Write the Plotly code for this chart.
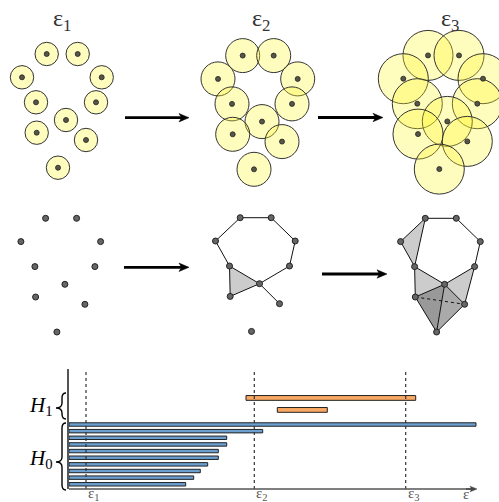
import plotly.graph_objects as go

W, H = 499, 502

# ---- data ----
pt_x = [46.7, 77.7, 22.0, 101.7, 36.0, 96.0, 66.0, 36.7, 86.0, 58.0]
pt_y = [54.0, 54.0, 77.3, 77.3, 102.3, 102.3, 120.0, 132.7, 140.0, 167.7]
eps_radii = [11.7, 17.0, 25.0]
eps_labels = ["ε<sub>1</sub>", "ε<sub>2</sub>", "ε<sub>3</sub>"]

edges_mid = [(0, 1), (0, 2), (1, 3), (2, 4), (3, 5), (5, 6), (4, 6), (4, 7), (6, 7), (6, 8)]
tris_mid = [(4, 6, 7)]
edges_right = [(0, 1), (1, 3), (3, 5), (0, 2), (2, 4), (0, 4), (4, 6), (4, 7), (5, 6),
               (5, 8), (6, 7), (6, 8), (6, 9), (7, 9), (8, 9)]
tris_right_light = [(0, 2, 4), (4, 6, 7), (5, 6, 8)]
tris_right_dark = [(7, 6, 9), (6, 8, 9)]
dotted_right = [(7, 8)]

h0_birth = [0, 0, 0, 0, 0, 0, 0, 0, 0, 0]
h0_death = [407.0, 193.7, 157.7, 157.7, 149.3, 149.3, 138.7, 131.3, 124.7, 116.7]
h1_birth = [177.0, 208.3]
h1_death = [346.7, 258.3]
bar_eps = [17.0, 185.3, 336.7]
bar_eps_labels = ["ε<sub>1</sub>", "ε<sub>2</sub>", "ε<sub>3</sub>"]

fig = go.Figure()
layout = {}


def panel(i, px0, px1, py0, py1, offx, offy):
    layout[f"xaxis{i}"] = dict(domain=[px0 / W, px1 / W], range=[px0 - offx, px1 - offx],
                               visible=False, anchor=f"y{i}", fixedrange=True)
    layout[f"yaxis{i}"] = dict(domain=[1 - py1 / H, 1 - py0 / H], range=[py1 - offy, py0 - offy],
                               visible=False, anchor=f"x{i}", fixedrange=True)


def PX(v):
    return v / W


def PY(v):
    return 1 - v / H


shapes = []
annotations = []

# ---- top row: balls ----
top_boxes = [(0, 124, 0.0, 0.0), (190, 320, 196.0, 1.6), (372, 499, 381.3, 1.4)]
for k, (x0, x1, ox, oy) in enumerate(top_boxes):
    i = k + 1
    panel(i, x0, x1, 28, 200, ox, oy)
    r = eps_radii[k]
    for cx, cy in zip(pt_x, pt_y):
        shapes.append(dict(type="circle", xref=f"x{i}", yref=f"y{i}",
                           x0=cx - r, x1=cx + r, y0=cy - r, y1=cy + r,
                           fillcolor="rgba(255,250,40,0.30)",
                           line=dict(color="#333", width=1), layer="below"))
    fig.add_trace(go.Scatter(x=pt_x, y=pt_y, mode="markers", xaxis=f"x{i}", yaxis=f"y{i}",
                             marker=dict(size=5, color="#555548", line=dict(color="#222", width=0.8)),
                             hoverinfo="skip"))


def add_tri(i, tri, color):
    xs = [pt_x[t] for t in tri] + [pt_x[tri[0]]]
    ys = [pt_y[t] for t in tri] + [pt_y[tri[0]]]
    fig.add_trace(go.Scatter(x=xs, y=ys, mode="lines", fill="toself", fillcolor=color,
                             line=dict(width=0), xaxis=f"x{i}", yaxis=f"y{i}", hoverinfo="skip"))


def add_edges(i, edges, dash="solid"):
    xs, ys = [], []
    for a, b in edges:
        xs += [pt_x[a], pt_x[b], None]
        ys += [pt_y[a], pt_y[b], None]
    fig.add_trace(go.Scatter(x=xs, y=ys, mode="lines", line=dict(color="#111", width=1, dash=dash),
                             xaxis=f"x{i}", yaxis=f"y{i}", hoverinfo="skip"))


def add_pts(i):
    fig.add_trace(go.Scatter(x=pt_x, y=pt_y, mode="markers", xaxis=f"x{i}", yaxis=f"y{i}",
                             marker=dict(size=6, color="#666", line=dict(color="#222", width=1)),
                             hoverinfo="skip"))


# ---- bottom row: complexes ----
panel(4, 0, 124, 205, 345, -1.1, 164.3)
add_pts(4)

panel(5, 190, 320, 205, 345, 193.5, 163.7)
for t in tris_mid:
    add_tri(5, t, "#cccccc")
add_edges(5, edges_mid)
add_pts(5)

panel(6, 380, 499, 205, 345, 378.6, 164.3)
for t in tris_right_light:
    add_tri(6, t, "#cccccc")
add_tri(6, tris_right_dark[0], "#999999")
add_tri(6, tris_right_dark[1], "#aaaaaa")
add_edges(6, edges_right)
add_edges(6, dotted_right, dash="dot")
add_pts(6)

# ---- barcode ----
h0_rows = list(range(len(h0_death)))
h1_rows = [-4.0, -2.2]
layout["xaxis7"] = dict(domain=[69 / W, 480 / W], range=[0, 411], visible=False,
                        anchor="y7", fixedrange=True)
layout["yaxis7"] = dict(domain=[1 - 489 / H, 1 - 369 / H], range=[9.71, -8.36],
                        showline=True, linecolor="#555", linewidth=1.5, showticklabels=False,
                        showgrid=False, zeroline=False, ticks="", anchor="x7", fixedrange=True)

fig.add_trace(go.Bar(orientation="h", y=h0_rows,
                     x=[d - b for b, d in zip(h0_birth, h0_death)], base=h0_birth,
                     width=0.52, marker=dict(color="#6a9fd0", line=dict(color="#222", width=1)),
                     xaxis="x7", yaxis="y7", hoverinfo="skip"))
fig.add_trace(go.Bar(orientation="h", y=h1_rows,
                     x=[d - b for b, d in zip(h1_birth, h1_death)], base=h1_birth,
                     width=0.72, marker=dict(color="#f8a862", line=dict(color="#222", width=1)),
                     xaxis="x7", yaxis="y7", hoverinfo="skip"))

for e, lab in zip(bar_eps, bar_eps_labels):
    shapes.append(dict(type="line", xref="x7", yref="y7 domain", x0=e, x1=e, y0=0, y1=1,
                       line=dict(color="#333", width=1.2, dash="dot"), layer="above"))
    annotations.append(dict(text=lab, xref="x7", yref="paper", x=e, y=PY(494),
                            xanchor="left", yanchor="middle", showarrow=False,
                            font=dict(family="Liberation Serif", size=15, color="#555")))
annotations.append(dict(text="ε", xref="paper", yref="paper", x=PX(466), y=PY(494),
                        xanchor="center", yanchor="middle", showarrow=False,
                        font=dict(family="Liberation Serif", size=15, color="#555")))


def arrow(x0, x1, y, lw, hl, hw, color):
    # shaft
    shapes.append(dict(type="line", xref="paper", yref="paper",
                       x0=PX(x0), x1=PX(x1 - hl * 0.6), y0=PY(y), y1=PY(y),
                       line=dict(color=color, width=lw)))
    # head
    p = (f"M {PX(x1)},{PY(y)} L {PX(x1 - hl)},{PY(y - hw)} "
         f"L {PX(x1 - hl * 0.75)},{PY(y)} L {PX(x1 - hl)},{PY(y + hw)} Z")
    shapes.append(dict(type="path", xref="paper", yref="paper", path=p,
                       fillcolor=color, line=dict(color=color, width=0.5)))


# x axis arrow of barcode
shapes.append(dict(type="line", xref="paper", yref="paper", x0=PX(69), x1=PX(472),
                   y0=PY(489), y1=PY(489), line=dict(color="#555", width=1.5)))
arrow(466, 477, 489, 1.5, 7, 2.8, "#444")

# top labels
for cx, lab in zip([62, 261, 450], eps_labels):
    annotations.append(dict(text=lab, xref="paper", yref="paper", x=PX(cx), y=PY(20),
                            xanchor="center", yanchor="middle", showarrow=False,
                            font=dict(family="Liberation Serif", size=24, color="#333")))

# arrows between panels
for x0, x1, yy in [(125, 189, 117.7), (318, 383, 117.5), (124, 189, 267.3), (322, 387, 274)]:
    arrow(x0, x1, yy, 2.8, 10, 4.2, "black")

# H labels and braces
annotations.append(dict(text="<i>H</i><sub>1</sub>", xref="paper", yref="paper", x=PX(41), y=PY(406),
                        xanchor="center", yanchor="middle", showarrow=False,
                        font=dict(family="Liberation Serif", size=21, color="black")))
annotations.append(dict(text="<i>H</i><sub>0</sub>", xref="paper", yref="paper", x=PX(41), y=PY(459),
                        xanchor="center", yanchor="middle", showarrow=False,
                        font=dict(family="Liberation Serif", size=21, color="black")))


def brace(xt, xe, yt, yb, ym, r=5):
    xm = (xt + xe) / 2 + 1
    pts = [
        f"M {PX(xe)},{PY(yt)}",
        f"Q {PX(xm)},{PY(yt)} {PX(xm)},{PY(yt + r)}",
        f"L {PX(xm)},{PY(ym - r)}",
        f"Q {PX(xm)},{PY(ym)} {PX(xt)},{PY(ym)}",
        f"Q {PX(xm)},{PY(ym)} {PX(xm)},{PY(ym + r)}",
        f"L {PX(xm)},{PY(yb - r)}",
        f"Q {PX(xm)},{PY(yb)} {PX(xe)},{PY(yb)}",
    ]
    return dict(type="path", xref="paper", yref="paper", path=" ".join(pts),
                line=dict(color="black", width=1.4))


shapes.append(brace(56, 66, 393, 419, 408))
shapes.append(brace(56, 66, 423, 490, 462))

fig.update_layout(**layout)
fig.update_layout(width=W, height=H, margin=dict(l=0, r=0, t=0, b=0),
                  paper_bgcolor="white", plot_bgcolor="rgba(0,0,0,0)",
                  showlegend=False, barmode="overlay",
                  shapes=shapes, annotations=annotations)
fig.write_html("out.html", config={"displayModeBar": False},
               post_script="document.body.style.margin='0px';document.body.style.overflow='hidden';")
